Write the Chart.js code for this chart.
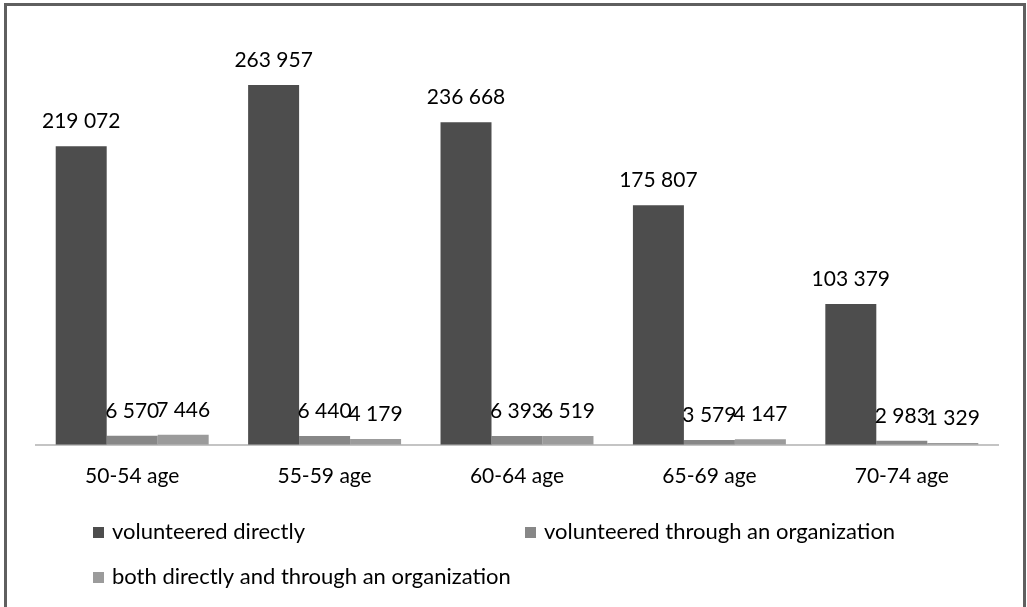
<!DOCTYPE html>
<html>
<head>
<meta charset="utf-8">
<script src="https://cdn.jsdelivr.net/npm/chart.js@4/dist/chart.umd.min.js"></script>
<style>
  html, body { margin: 0; padding: 0; background: #fff; }
  #wrap { position: absolute; left: 0; top: 0; width: 1027px; height: 607px; }
</style>
</head>
<body>
<div id="wrap"><canvas id="c" width="1027" height="607"></canvas></div>
<script>
const categories = ['50-54 age', '55-59 age', '60-64 age', '65-69 age', '70-74 age'];
const seriesNames = ['volunteered directly', 'volunteered through an organization', 'both directly and through an organization'];
const volunteeredDirectly = [219072, 263957, 236668, 175807, 103379];
const throughOrganization = [6570, 6440, 6393, 3579, 2983];
const bothWays = [7446, 4179, 6519, 4147, 1329];
const seriesColors = ['#4d4d4d', '#878787', '#9b9b9b'];

const FONT = 'Lato, "Open Sans", "DejaVu Sans", sans-serif';

function fmt(v) {
  return String(v).replace(/\B(?=(\d{3})+(?!\d))/g, ' ');
}

const framePlugin = {
  id: 'frame',
  beforeDraw(chart) {
    const ctx = chart.ctx;
    ctx.save();
    ctx.fillStyle = '#ffffff';
    ctx.fillRect(0, 0, chart.width, chart.height);
    ctx.strokeStyle = '#5f5f5f';
    ctx.lineWidth = 3;
    ctx.strokeRect(5.5, 4.5, 1019, 640);
    ctx.restore();
  }
};

const valueLabels = {
  id: 'valueLabels',
  afterDatasetsDraw(chart) {
    const ctx = chart.ctx;
    ctx.save();
    ctx.font = '21px ' + FONT;
    ctx.fillStyle = '#000';
    ctx.textAlign = 'center';
    ctx.textBaseline = 'alphabetic';
    chart.data.datasets.forEach((ds, i) => {
      chart.getDatasetMeta(i).data.forEach((bar, j) => {
        ctx.fillText(fmt(ds.data[j]), bar.x, bar.y - 18);
      });
    });
    ctx.restore();
  }
};

const customLegend = {
  id: 'customLegend',
  afterDraw(chart) {
    const ctx = chart.ctx;
    const spots = [[93, 532], [525, 532], [93, 577]];
    ctx.save();
    ctx.font = '22px ' + FONT;
    ctx.textBaseline = 'middle';
    ctx.textAlign = 'left';
    chart.data.datasets.forEach((ds, i) => {
      const [x, y] = spots[i];
      ctx.fillStyle = ds.backgroundColor;
      ctx.fillRect(x, y - 5, 11, 11);
      ctx.fillStyle = '#000';
      ctx.fillText(ds.label, x + 19, y);
    });
    ctx.restore();
  }
};

new Chart(document.getElementById('c'), {
  type: 'bar',
  data: {
    labels: categories,
    datasets: [
      { label: seriesNames[0], data: volunteeredDirectly, backgroundColor: seriesColors[0] },
      { label: seriesNames[1], data: throughOrganization, backgroundColor: seriesColors[1] },
      { label: seriesNames[2], data: bothWays, backgroundColor: seriesColors[2] }
    ]
  },
  options: {
    responsive: false,
    animation: false,
    devicePixelRatio: 1,
    layout: { padding: { left: 36, right: 29, top: 36, bottom: 99 } },
    datasets: { bar: { categoryPercentage: 0.795, barPercentage: 1.0 } },
    plugins: { legend: { display: false }, tooltip: { enabled: false } },
    scales: {
      x: {
        grid: { display: false, drawTicks: false },
        border: { display: true, color: '#c4c4c4', width: 2 },
        ticks: { color: '#000', font: { family: FONT, size: 21 }, padding: 19 }
      },
      y: { display: false, min: 0, max: 300000 }
    }
  },
  plugins: [framePlugin, valueLabels, customLegend]
});
</script>
</body>
</html>
